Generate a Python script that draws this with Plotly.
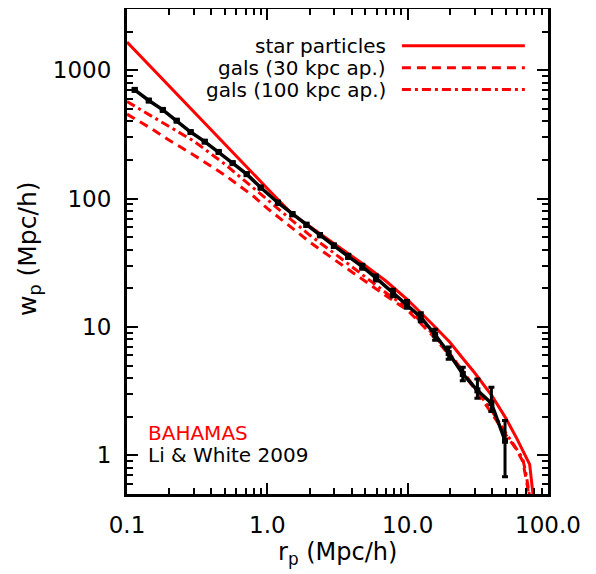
import plotly.graph_objects as go

# ---- Data ----
# Li & White 2009 observed wp(rp)
rp_obs = [0.1135, 0.143, 0.180, 0.226, 0.284, 0.358, 0.450, 0.566, 0.713, 0.897,
          1.19, 1.51, 1.90, 2.37, 2.98, 3.77, 4.75, 5.94, 7.87, 9.9,
          12.4, 15.7, 19.6, 24.7, 31.4, 39.5, 49.4]
wp_obs = [703, 581, 491, 405, 330, 278, 231, 189, 155, 122,
          92.9, 75.7, 62.5, 51.9, 43.0, 35.5, 29.5, 24.1, 18.4, 15.0,
          11.9, 8.7, 6.26, 4.30, 3.21, 2.55, 1.30]
wp_err_hi = [15, 12, 10, 8, 7, 6, 5, 4, 3.5, 3,
             2.5, 2, 1.8, 1.5, 1.3, 1.3, 1.3, 1.3, 1.3, 1.1,
             1.0, 0.9, 0.72, 0.55, 0.72, 0.85, 0.57]
wp_err_lo = [15, 12, 10, 8, 7, 6, 5, 4, 3.5, 3,
             2.5, 2, 1.8, 1.5, 1.3, 1.3, 1.3, 1.3, 1.2, 1.0,
             0.9, 0.8, 0.65, 0.48, 0.43, 0.35, 0.62]

# BAHAMAS: star particles
rp_star = [0.1, 0.2, 0.3, 0.5, 0.8, 1.0, 1.5, 2.0, 3.0, 5.0, 7.0, 10, 15, 20, 25, 30, 40, 50, 60, 74, 79]
wp_star = [1660, 750, 470, 262, 154, 120, 76, 61, 45, 30, 22.8, 16.3, 10.5, 7.6, 5.6, 4.4, 2.9, 1.95, 1.35, 0.85, 0.45]

# BAHAMAS: galaxies, 30 kpc aperture
rp_g30 = [0.1, 0.15, 0.2, 0.3, 0.5, 0.8, 1.0, 1.5, 2.0, 3.0, 5.0, 7.0, 10, 15, 20, 30, 40, 50, 60, 66, 70, 74]
wp_g30 = [455, 350, 285, 218, 152, 104, 84, 59, 46, 33.5, 22.5, 17.5, 13.5, 8.6, 6.0, 3.3, 2.1, 1.45, 1.1, 0.9, 0.65, 0.45]

# BAHAMAS: galaxies, 100 kpc aperture
rp_g100 = [0.1, 0.15, 0.2, 0.3, 0.5, 0.8, 1.0, 1.5, 2.0, 3.0, 5.0, 7.0, 10, 15, 20, 30, 40, 50, 60, 66, 70, 74]
wp_g100 = [570, 440, 367, 280, 185, 120, 98, 67, 52, 37.5, 24.5, 18.5, 14.0, 8.9, 6.2, 3.4, 2.2, 1.5, 1.12, 0.95, 0.7, 0.48]

x_tickvals = [0.1, 1, 10, 100]
x_ticktext = ["0.1", "1.0", "10.0", "100.0"]
y_tickvals = [1, 10, 100, 1000]
y_ticktext = ["1", "10", "100", "1000"]

legend_labels = ["star particles", "gals (30 kpc ap.)", "gals (100 kpc ap.)"]
legend_dashes = ["solid", "9px,6px", "9px,4px,3px,4px"]

RED = "#ff0000"
FONT = "DejaVu Sans"

fig = go.Figure()
fig.add_trace(go.Scatter(x=rp_g30, y=wp_g30, mode="lines",
                         line=dict(color=RED, width=3, dash=legend_dashes[1])))
fig.add_trace(go.Scatter(x=rp_g100, y=wp_g100, mode="lines",
                         line=dict(color=RED, width=3, dash=legend_dashes[2])))
fig.add_trace(go.Scatter(x=rp_star, y=wp_star, mode="lines",
                         line=dict(color=RED, width=3, dash=legend_dashes[0])))
fig.add_trace(go.Scatter(x=rp_obs, y=wp_obs, mode="lines+markers",
                         line=dict(color="black", width=3.5),
                         marker=dict(symbol="square", size=6, color="black"),
                         error_y=dict(type="data", symmetric=False, array=wp_err_hi,
                                      arrayminus=wp_err_lo, color="black",
                                      thickness=3, width=3)))

# legend drawn manually (IDL style)
ys = [0.924, 0.879, 0.834]
for lab, dsh, yy in zip(legend_labels, legend_dashes, ys):
    fig.add_annotation(x=0.62, y=yy, xref="paper", yref="paper", text=lab,
                       showarrow=False, xanchor="right", yanchor="middle",
                       font=dict(family=FONT, size=20, color="black"))
    fig.add_shape(type="line", xref="paper", yref="paper", x0=0.653, x1=0.945,
                  y0=yy, y1=yy, line=dict(color=RED, width=3, dash=dsh))

fig.add_annotation(x=0.045, y=0.126, xref="paper", yref="paper", text="BAHAMAS",
                   showarrow=False, xanchor="left", yanchor="middle",
                   font=dict(family=FONT, size=20, color=RED))
fig.add_annotation(x=0.045, y=0.080, xref="paper", yref="paper", text="Li & White 2009",
                   showarrow=False, xanchor="left", yanchor="middle",
                   font=dict(family=FONT, size=20, color="black"))

# axis titles
fig.add_annotation(x=0.5, y=-0.122, xref="paper", yref="paper",
                   text="r<sub>p</sub> (Mpc/h)", showarrow=False,
                   xanchor="center", yanchor="middle",
                   font=dict(family=FONT, size=24, color="black"))
fig.add_annotation(x=-0.233, y=0.505, xref="paper", yref="paper",
                   text="w<sub>p</sub> (Mpc/h)", showarrow=False, textangle=-90,
                   xanchor="center", yanchor="middle",
                   font=dict(family=FONT, size=25, color="black"))

x_minor = [v * m for v in [0.1, 1, 10] for m in range(2, 10)]
y_minor = [v * m for v in [0.1, 1, 10, 100, 1000] for m in range(2, 10)]
y_minor = [v for v in y_minor if 0.5 <= v <= 3000]

axis_common = dict(showgrid=False, zeroline=False, showline=True, linecolor="black",
                   linewidth=3, mirror="ticks", ticks="inside", ticklen=11,
                   tickwidth=2, tickcolor="black", automargin=False,
                   tickfont=dict(family=FONT, size=23, color="black"))

fig.update_xaxes(type="log", range=[-1, 2], tickvals=x_tickvals, ticktext=x_ticktext,
                 minor=dict(tickvals=x_minor, ticks="inside", ticklen=6, tickwidth=2,
                            tickcolor="black"),
                 ticklabelstandoff=8,
                 **axis_common)
fig.update_yaxes(type="log", range=[-0.30103, 3.4771], tickvals=y_tickvals,
                 ticktext=y_ticktext,
                 minor=dict(tickvals=y_minor, ticks="inside", ticklen=6, tickwidth=2,
                            tickcolor="black"),
                 ticklabelstandoff=8,
                 **axis_common)

fig.update_layout(width=596, height=574, showlegend=False,
                  margin=dict(l=119, r=56, t=1, b=88, autoexpand=False),
                  paper_bgcolor="white", plot_bgcolor="white")

fig.write_html("out.html")
